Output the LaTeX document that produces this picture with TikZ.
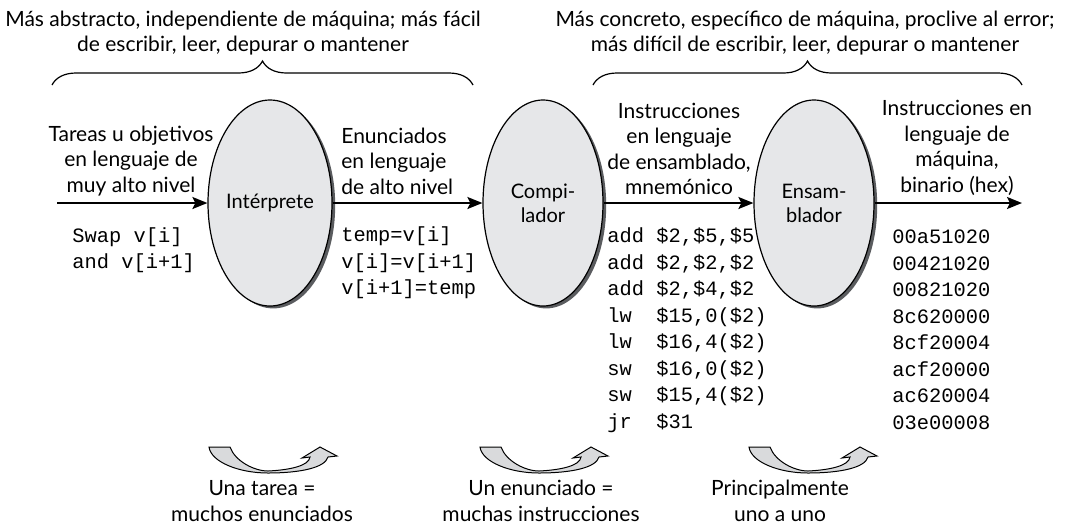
\documentclass[tikz,border=0pt]{standalone}
\usepackage{fontspec}
\setmainfont{Lato}
\setmonofont{Liberation Mono}
\usetikzlibrary{arrows.meta,decorations.pathreplacing,shapes.geometric,shadows}
\definecolor{ovalgray}{HTML}{E6E7E9}
\definecolor{shadegray}{HTML}{5A5C5F}
\definecolor{bendgray}{HTML}{D9DADC}
\tikzset{bend/.pic={
    \draw[line width=0.5pt,fill=bendgray] (0,0) -- (21,0)
        .. controls (26,14) and (45,24) .. (59,24)
        .. controls (80,23) and (100,19) .. (101,10) -- (93,11) -- (111,0)
        -- (128,9) -- (119,10) .. controls (116,21) and (90,26) .. (59,26)
        .. controls (30,26) and (2,15) .. (0,0) -- cycle;}}

\begin{document}
\begin{tikzpicture}[x=0.5pt,y=-0.5pt,
    box/.style={ellipse,draw,line width=0.6pt,fill=ovalgray,minimum width=60pt,
        minimum height=103pt,inner sep=0pt,align=center,
        drop shadow={shadow xshift=1.6pt,shadow yshift=-1.2pt,fill=shadegray,opacity=1}},
    lbl/.style={align=center,inner sep=0pt,font=\fontsize{10.5}{12.75}\selectfont},
    code/.style={align=left,anchor=west,inner sep=0pt,font=\ttfamily\fontsize{10.2}{13.25}\selectfont},
    flow/.style={line width=1pt,-{Stealth[length=7.5pt,width=6pt,inset=1.5pt]}},
    curly/.style={decorate,decoration={brace,amplitude=12pt},line width=0.6pt}]
    \useasboundingbox (0,0) rectangle (1074,526);

    % top remarks and braces
    \node[lbl] (absL) at (243,33) {Más abstracto, independiente de máquina; más fácil\\de escribir, leer, depurar o mantener};
    \node[lbl] (absR) at (805,33) {Más concreto, específico de máquina, proclive al error;\\más difícil de escribir, leer, depurar o mantener};
    \coordinate (braceL1) at (52,85);
    \coordinate (braceL2) at (473,85);
    \coordinate (braceR1) at (593,85);
    \coordinate (braceR2) at (1022,85);
    \draw[curly] (braceL1) -- (braceL2);
    \draw[curly] (braceR1) -- (braceR2);

    % translators
    \node[box] (interp) at (270,203) {Intérprete};
    \node[box] (compil) at (543,203) {Compi-\\lador};
    \node[box] (ensam) at (814,203) {Ensam-\\blador};

    % main flow
    \coordinate (src) at (57,203);
    \coordinate (snk) at (1022,203);
    \draw[flow] (src) -- (interp.west);
    \draw[flow] (interp.east) -- (compil.west);
    \draw[flow] (compil.east) -- (ensam.west);
    \draw[flow] (ensam.east) -- (snk);

    % level labels
    \node[lbl] (task) at (131,161) {Tareas u objetivos\\en lenguaje de\\muy alto nivel};
    \node[lbl,align=left,anchor=west] (stmt) at (341,161) {Enunciados\\en lenguaje\\de alto nivel};
    \node[lbl] (asm) at (679,149) {Instrucciones\\en lenguaje\\de ensamblado,\\mnemónico};
    \node[lbl] (mach) at (957,148) {Instrucciones en\\lenguaje de\\máquina,\\binario (hex)};

    % code samples
    \node[code] (taskcode) at (72,250) {Swap v[i]\\and v[i+1]};
    \node[code] (stmtcode) at (341,263) {temp=v[i]\\v[i]=v[i+1]\\v[i+1]=temp};
    \node[code] (asmcode) at (607,330) {add \$2,\$5,\$5\\add \$2,\$2,\$2\\add \$2,\$4,\$2\\
        lw\ \ \$15,0(\$2)\\lw\ \ \$16,4(\$2)\\sw\ \ \$16,0(\$2)\\sw\ \ \$15,4(\$2)\\jr\ \ \$31};
    \node[code] (machcode) at (892,330) {00a51020\\00421020\\00821020\\8c620000\\
        8cf20004\\acf20000\\ac620004\\03e00008};

    % expansion ratios
    \pic (bendA) at (209,447) {bend};
    \pic (bendB) at (480,447) {bend};
    \pic (bendC) at (749,447) {bend};
    \node[lbl] (ratioA) at (262,501) {Una tarea =\\muchos enunciados};
    \node[lbl] (ratioB) at (541,501) {Un enunciado =\\muchas instrucciones};
    \node[lbl] (ratioC) at (780,501) {Principalmente\\uno a uno};
\end{tikzpicture}
\end{document}
